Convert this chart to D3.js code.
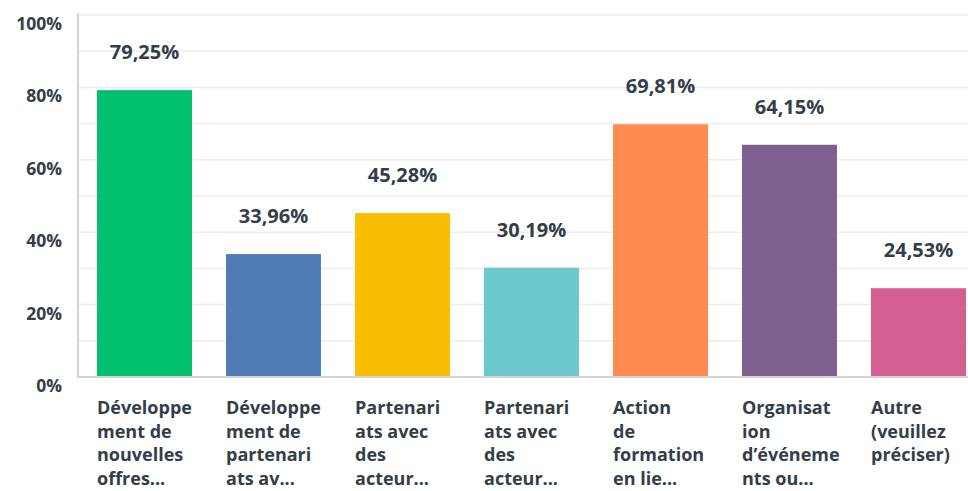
<!DOCTYPE html>
<html>
<head>
<meta charset="utf-8">
<script src="https://cdn.jsdelivr.net/npm/d3@7"></script>
<style>
  body { margin: 0; background: #fff; }
  text { font-family: "Open Sans", "DejaVu Sans", sans-serif; fill: #333e48; font-weight: 700; }
</style>
</head>
<body>
<div id="chart"></div>
<script>
var width = 968;
var height = 491;

// data
var categories = ["c1", "c2", "c3", "c4", "c5", "c6", "c7"];
var catLines = [
   ["Développe", "ment de", "nouvelles", "offres..."],
   ["Développe", "ment de", "partenari", "ats av..."],
   ["Partenari", "ats avec", "des", "acteur..."],
   ["Partenari", "ats avec", "des", "acteur..."],
   ["Action", "de", "formation", "en lie..."],
   ["Organisat", "ion", "d’événeme", "nts ou..."],
   ["Autre", "(veuillez", "préciser)"]
];
var values = [79.25, 33.96, 45.28, 30.19, 69.81, 64.15, 24.53];
var colors = ["#00bf6f", "#507cb6", "#f9be00", "#6bc8cd", "#ff8b4f", "#7f5f90", "#d25f90"];
var yTicks = [0, 20, 40, 60, 80, 100];
var gridTicks = [10, 20, 30, 40, 50, 60, 70, 80, 90, 100];

var plotLeft = 78, plotBase = 377, plotTop = 15;

var svg = d3.select("#chart")
   .append("svg")
   .attr("width", width)
   .attr("height", height);

var x = d3.scaleBand()
   .domain(categories)
   .range([80, 983])
   .paddingInner(0.264)
   .paddingOuter(0.132);

var y = d3.scaleLinear()
   .domain([0, 100])
   .range([plotBase, plotTop]);

// gridlines
svg.selectAll(".grid")
   .data(gridTicks)
   .enter()
   .append("line")
   .attr("x1", plotLeft)
   .attr("x2", width)
   .attr("y1", function(d) { return y(d); })
   .attr("y2", function(d) { return y(d); })
   .attr("stroke", "#ececec")
   .attr("stroke-width", 1.5);

// y labels (sit a little below their gridline)
svg.selectAll(".ylab")
   .data(yTicks)
   .enter()
   .append("text")
   .attr("x", 62)
   .attr("y", function(d) { return y(d) + 15; })
   .attr("text-anchor", "end")
   .attr("font-size", "17.5px")
   .text(function(d) { return d + "%"; });

// bars
svg.selectAll(".bar")
   .data(values)
   .enter()
   .append("rect")
   .attr("x", function(d, i) { return x(categories[i]); })
   .attr("y", function(d) { return y(d); })
   .attr("width", x.bandwidth())
   .attr("height", function(d) { return plotBase - y(d); })
   .attr("fill", function(d, i) { return colors[i]; });

// axes lines
svg.append("line")
   .attr("x1", plotLeft).attr("x2", plotLeft)
   .attr("y1", 13).attr("y2", plotBase)
   .attr("stroke", "#d4d4d4").attr("stroke-width", 2);
svg.append("line")
   .attr("x1", plotLeft - 1).attr("x2", width)
   .attr("y1", plotBase).attr("y2", plotBase)
   .attr("stroke", "#d4d4d4").attr("stroke-width", 2);

// value labels
svg.selectAll(".vlab")
   .data(values)
   .enter()
   .append("text")
   .attr("x", function(d, i) { return x(categories[i]) + x.bandwidth() / 2; })
   .attr("y", function(d) { return y(d) - 31; })
   .attr("text-anchor", "middle")
   .attr("font-size", "20px")
   .text(function(d) { return d.toFixed(2).replace(".", ",") + "%"; });

// category labels
var cat = svg.selectAll(".cat")
   .data(catLines)
   .enter()
   .append("text")
   .attr("font-size", "18px")
   .attr("transform", function(d, i) { return "translate(" + x(categories[i]) + ",414)"; });

cat.selectAll("tspan")
   .data(function(d) { return d; })
   .enter()
   .append("tspan")
   .attr("x", 0)
   .attr("y", function(d, j) { return j * 23.7; })
   .text(function(d) { return d; });
</script>
</body>
</html>
